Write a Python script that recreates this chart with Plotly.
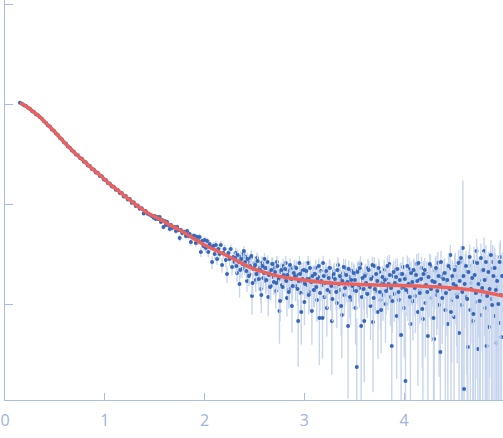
import plotly.graph_objects as go

# ---- measured curve, main sampling ----
q = [
    0.15, 0.17, 0.19, 0.21, 0.23, 0.25, 0.27, 0.29, 0.31, 0.33, 0.35,
    0.37, 0.39, 0.41, 0.43, 0.45, 0.47, 0.49, 0.51, 0.53, 0.55, 0.57, 0.59,
    0.61, 0.63, 0.65, 0.67, 0.69, 0.71, 0.73, 0.75, 0.77, 0.79, 0.81, 0.83, 0.85, 0.87, 0.89,
    0.91, 0.93, 0.95, 0.97, 0.99, 1.01, 1.03, 1.05, 1.07, 1.09, 1.11, 1.13, 1.15, 1.17, 1.19,
    1.21, 1.23, 1.25, 1.27, 1.29, 1.31, 1.33, 1.35, 1.37, 1.39, 1.41, 1.43, 1.45, 1.47, 1.49,
    1.5, 1.5125, 1.525, 1.5375, 1.55, 1.5625, 1.575, 1.5875,
    1.6, 1.6125, 1.625, 1.6375, 1.65, 1.6625, 1.675, 1.6875,
    1.7, 1.7125, 1.725, 1.7375, 1.75, 1.7625, 1.775, 1.7875,
    1.8, 1.8125, 1.825, 1.8375, 1.85, 1.8625, 1.875, 1.8875,
    1.9, 1.9125, 1.925, 1.9375, 1.95, 1.9625, 1.975, 1.9875,
    2.0, 2.0125, 2.025, 2.0375, 2.05, 2.0625, 2.075, 2.0875,
    2.1, 2.1125, 2.125, 2.1375, 2.15, 2.1625, 2.175, 2.1875,
    2.2, 2.2125, 2.225, 2.2375, 2.25, 2.2625, 2.275, 2.2875,
    2.3, 2.3125, 2.325, 2.3375, 2.35, 2.3625, 2.375, 2.3875,
    2.4, 2.4125, 2.425, 2.4375, 2.45, 2.4625, 2.475, 2.4875,
    2.5, 2.5125, 2.525, 2.5375, 2.55, 2.5625, 2.575, 2.5875,
    2.6, 2.6125, 2.625, 2.6375, 2.65, 2.6625, 2.675, 2.6875,
    2.7, 2.7125, 2.725, 2.7375, 2.75, 2.7625, 2.775, 2.7875,
    2.8, 2.8125, 2.825, 2.8375, 2.85, 2.8625, 2.875, 2.8875,
    2.9, 2.9125, 2.925, 2.9375, 2.95, 2.9625, 2.975, 2.9875,
    3.0, 3.0125, 3.025, 3.0375, 3.05, 3.0625, 3.075, 3.0875,
    3.1, 3.1125, 3.125, 3.1375, 3.15, 3.1625, 3.175, 3.1875,
    3.2, 3.2125, 3.225, 3.2375, 3.25, 3.2625, 3.275, 3.2875,
    3.3, 3.3125, 3.325, 3.3375, 3.35, 3.3625, 3.375, 3.3875,
    3.4, 3.4125, 3.425, 3.4375, 3.45, 3.4625, 3.475, 3.4875,
    3.5, 3.5125, 3.525, 3.5375, 3.55, 3.5625, 3.575, 3.5875,
    3.6, 3.6125, 3.625, 3.6375, 3.65, 3.6625, 3.675, 3.6875,
    3.7, 3.7125, 3.725, 3.7375, 3.75, 3.7625, 3.775, 3.7875,
    3.8, 3.8125, 3.825, 3.8375, 3.85, 3.8625, 3.875, 3.8875,
    3.9, 3.9125, 3.925, 3.9375, 3.95, 3.9625, 3.975, 3.9875,
    4.0, 4.0125, 4.025, 4.0375, 4.05, 4.0625, 4.075, 4.0875,
    4.1, 4.1125, 4.125, 4.1375, 4.15, 4.1625, 4.175, 4.1875,
    4.2, 4.2125, 4.225, 4.2375, 4.25, 4.2625, 4.275, 4.2875,
    4.3, 4.3125, 4.325, 4.3375, 4.35, 4.3625, 4.375, 4.3875,
    4.4, 4.4125, 4.425, 4.4375, 4.45, 4.4625, 4.475, 4.4875,
    4.5, 4.5125, 4.525, 4.5375, 4.55, 4.5625, 4.575, 4.5875,
    4.6, 4.6125, 4.625, 4.6375, 4.65, 4.6625, 4.675, 4.6875,
    4.7, 4.7125, 4.725, 4.7375, 4.75, 4.7625, 4.775, 4.7875,
    4.8, 4.8125, 4.825, 4.8375, 4.85, 4.8625, 4.875, 4.8875,
    4.9, 4.9125, 4.925, 4.9375, 4.95, 4.9625, 4.975,
]

intensity = [
    1.03, 1.005, 0.972, 0.955, 0.915, 0.894, 0.852, 0.832, 0.791, 0.772, 0.736,
    0.712, 0.671, 0.649, 0.611, 0.594, 0.556, 0.541, 0.508, 0.489, 0.458, 0.444, 0.414,
    0.402, 0.376, 0.366, 0.343, 0.334, 0.313, 0.307, 0.288, 0.283, 0.265, 0.262, 0.243, 0.240, 0.224, 0.221,
    0.206, 0.205, 0.191, 0.189, 0.176, 0.174, 0.162, 0.160, 0.150, 0.149, 0.139, 0.138, 0.129, 0.129, 0.119,
    0.120, 0.111, 0.112, 0.103, 0.104, 0.0955, 0.0968, 0.0898, 0.0907, 0.0805, 0.0850, 0.0798, 0.0781, 0.0758, 0.0730,
    0.07586, 0.07079, 0.07413, 0.07079, 0.07413, 0.06607, 0.06918, 0.05888,
    0.06761, 0.06166, 0.06607, 0.06166, 0.05623, 0.06166, 0.05754, 0.05888,
    0.05888, 0.05370, 0.05888, 0.05495, 0.04571, 0.05495, 0.05129, 0.05248,
    0.05248, 0.04786, 0.05370, 0.04786, 0.05012, 0.04169, 0.04677, 0.04786,
    0.04786, 0.04074, 0.04677, 0.04266, 0.04677, 0.03311, 0.04266, 0.03802,
    0.04365, 0.03631, 0.04266, 0.03311, 0.03981, 0.03715, 0.02630, 0.03802,
    0.03162, 0.03890, 0.02818, 0.03548, 0.03162, 0.03890, 0.02455, 0.03236,
    0.03548, 0.02754, 0.01995, 0.03236, 0.02818, 0.03548, 0.02344, 0.02951,
    0.02630, 0.03236, 0.02042, 0.02818, 0.01585, 0.02951, 0.02239, 0.03162,
    0.02344, 0.02951, 0.01698, 0.02630, 0.01995, 0.02884, 0.01202, 0.02239,
    0.02570, 0.01738, 0.02884, 0.01995, 0.02291, 0.01413, 0.02570, 0.01820,
    0.02818, 0.01698, 0.02291, 0.01175, 0.02089, 0.01514, 0.02512, 0.01862,
    0.02291, 0.01349, 0.02630, 0.01738, 0.008511, 0.02089, 0.01549, 0.02399,
    0.01778, 0.02570, 0.01148, 0.02138, 0.01413, 0.02239, 0.009550, 0.01820,
    0.02344, 0.01514, 0.01950, 0.006761, 0.02570, 0.01288, 0.02138, 0.01660,
    0.01047, 0.02188, 0.01549, 0.02570, 0.01318, 0.01820, 0.008511, 0.01995,
    0.01380, 0.02291, 0.01096, 0.01862, 0.007244, 0.02138, 0.01549, 0.02570,
    0.01175, 0.01950, 0.009120, 0.01698, 0.02291, 0.01318, 0.006761, 0.01862,
    0.02138, 0.01479, 0.01023, 0.02455, 0.01380, 0.01778, 0.007762, 0.02042,
    0.01230, 0.02291, 0.01514, 0.006026, 0.01862, 0.01096, 0.02138, 0.01380,
    0.01950, 0.009120, 0.002344, 0.02188, 0.01445, 0.02512, 0.01175, 0.01698,
    0.006761, 0.01995, 0.01288, 0.02291, 0.01514, 0.009550, 0.01862, 0.006607,
    0.02399, 0.01349, 0.01738, 0.008318, 0.02089, 0.01096, 0.01622, 0.01230,
    0.02188, 0.01000, 0.01820, 0.01445, 0.02512, 0.01175, 0.003802, 0.01905,
    0.01259, 0.02188, 0.007586, 0.01660, 0.01096, 0.01995, 0.01445, 0.02344,
    0.009120, 0.001698, 0.01905, 0.01318, 0.02239, 0.006310, 0.01622, 0.01072,
    0.02089, 0.01202, 0.02512, 0.008318, 0.01738, 0.01380, 0.02291, 0.007079,
    0.01820, 0.01023, 0.01995, 0.004786, 0.01479, 0.02399, 0.01148, 0.01660,
    0.004467, 0.02138, 0.01230, 0.02570, 0.009772, 0.003311, 0.01862, 0.01380,
    0.01995, 0.008710, 0.01660, 0.006310, 0.02239, 0.03090, 0.01096, 0.01778,
    0.007413, 0.02344, 0.01259, 0.01905, 0.005129, 0.02630, 0.009772, 0.03631,
    0.001413, 0.02138, 0.01175, 0.003715, 0.02399, 0.008710, 0.01622, 0.006761,
    0.02630, 0.01047, 0.03388, 0.003548, 0.01738, 0.007762, 0.02138, 0.01230,
    0.03388, 0.009120, 0.003802, 0.01820, 0.005888, 0.02239, 0.01122, 0.02630,
    0.007586, 0.01820, 0.004074, 0.01479, 0.006457, 0.02951, 0.004677,
]

error = [
    0.006, 0.006, 0.006, 0.006, 0.005, 0.005, 0.005, 0.005, 0.005, 0.005, 0.005,
    0.005, 0.005, 0.005, 0.005, 0.004, 0.004, 0.004, 0.004, 0.004, 0.004, 0.004, 0.004,
    0.004, 0.004, 0.004, 0.004, 0.004, 0.003, 0.003, 0.003, 0.003, 0.003, 0.003, 0.003, 0.003, 0.003, 0.003,
    0.003, 0.003, 0.003, 0.003, 0.003, 0.003, 0.003, 0.003, 0.0028, 0.0028, 0.0028, 0.0028, 0.0028, 0.0028, 0.0028,
    0.0027, 0.0027, 0.0027, 0.0026, 0.0026, 0.0026, 0.0026, 0.0025, 0.0025, 0.0025, 0.0025, 0.0024, 0.0024, 0.0024, 0.0024,
    0.0028, 0.0031, 0.0027, 0.0030, 0.0032, 0.0029, 0.0031, 0.0030,
    0.0031, 0.0034, 0.0030, 0.0033, 0.0035, 0.0032, 0.0034, 0.0033,
    0.0032, 0.0035, 0.0031, 0.0034, 0.0036, 0.0033, 0.0035, 0.0034,
    0.0034, 0.0037, 0.0033, 0.0036, 0.0038, 0.0035, 0.0037, 0.0036,
    0.0035, 0.0038, 0.0034, 0.0037, 0.0039, 0.0036, 0.0038, 0.0037,
    0.0036, 0.0039, 0.0035, 0.0038, 0.0040, 0.0037, 0.0039, 0.0038,
    0.0037, 0.0040, 0.0036, 0.0039, 0.0041, 0.0038, 0.0040, 0.0039,
    0.0038, 0.0041, 0.0037, 0.0040, 0.0042, 0.0039, 0.0041, 0.0040,
    0.0039, 0.0042, 0.0038, 0.0041, 0.0043, 0.0040, 0.0042, 0.0041,
    0.0039, 0.0042, 0.0038, 0.0041, 0.0043, 0.0040, 0.0042, 0.0041,
    0.0040, 0.0043, 0.0039, 0.0042, 0.0044, 0.0041, 0.0043, 0.0042,
    0.0040, 0.0043, 0.0039, 0.0042, 0.0044, 0.0041, 0.0043, 0.0042,
    0.0041, 0.0044, 0.0040, 0.0043, 0.0045, 0.0042, 0.0044, 0.0043,
    0.0041, 0.0044, 0.0040, 0.0043, 0.0045, 0.0042, 0.0044, 0.0043,
    0.0042, 0.0045, 0.0041, 0.0044, 0.0046, 0.0043, 0.0045, 0.0044,
    0.0043, 0.0046, 0.0042, 0.0045, 0.0047, 0.0044, 0.0046, 0.0045,
    0.0044, 0.0047, 0.0043, 0.0046, 0.0048, 0.0045, 0.0047, 0.0046,
    0.0045, 0.0048, 0.0044, 0.0047, 0.0049, 0.0046, 0.0048, 0.0047,
    0.0046, 0.0049, 0.0045, 0.0048, 0.0050, 0.0047, 0.0049, 0.0048,
    0.0047, 0.0050, 0.0046, 0.0049, 0.0051, 0.0048, 0.0050, 0.0049,
    0.0049, 0.0052, 0.0048, 0.0051, 0.0053, 0.0050, 0.0052, 0.0051,
    0.0051, 0.0054, 0.0050, 0.0053, 0.0055, 0.0052, 0.0054, 0.0053,
    0.0053, 0.0056, 0.0052, 0.0055, 0.0057, 0.0054, 0.0056, 0.0055,
    0.0056, 0.0059, 0.0055, 0.0058, 0.0060, 0.0057, 0.0059, 0.0058,
    0.0059, 0.0062, 0.0058, 0.0061, 0.0063, 0.0060, 0.0062, 0.0061,
    0.0062, 0.0065, 0.0061, 0.0064, 0.0066, 0.0063, 0.0065, 0.0064,
    0.0066, 0.0069, 0.0065, 0.0068, 0.0070, 0.0067, 0.0069, 0.0068,
    0.0070, 0.0073, 0.0069, 0.0072, 0.0074, 0.0071, 0.0073, 0.0072,
    0.0075, 0.0078, 0.0074, 0.0077, 0.0079, 0.0076, 0.0078, 0.0077,
    0.0081, 0.0084, 0.0080, 0.0083, 0.0085, 0.0082, 0.0084, 0.0083,
    0.0089, 0.0092, 0.0088, 0.0091, 0.0093, 0.0090, 0.0092, 0.1350,
    0.0099, 0.0102, 0.0098, 0.0101, 0.0103, 0.0100, 0.0102, 0.0101,
    0.0111, 0.0114, 0.0110, 0.0113, 0.0115, 0.0112, 0.0114, 0.0113,
    0.0124, 0.0127, 0.0123, 0.0126, 0.0128, 0.0125, 0.0127, 0.0126,
    0.0137, 0.0140, 0.0136, 0.0139, 0.0141, 0.0138, 0.0140,
]

# ---- measured curve, interleaved frames (q >= 2.3) ----
q_b = [
    2.30625, 2.31875, 2.33125, 2.34375, 2.35625, 2.36875, 2.38125, 2.39375,
    2.40625, 2.41875, 2.43125, 2.44375, 2.45625, 2.46875, 2.48125, 2.49375,
    2.50625, 2.51875, 2.53125, 2.54375, 2.55625, 2.56875, 2.58125, 2.59375,
    2.60625, 2.61875, 2.63125, 2.64375, 2.65625, 2.66875, 2.68125, 2.69375,
    2.70625, 2.71875, 2.73125, 2.74375, 2.75625, 2.76875, 2.78125, 2.79375,
    2.80625, 2.81875, 2.83125, 2.84375, 2.85625, 2.86875, 2.88125, 2.89375,
    2.90625, 2.91875, 2.93125, 2.94375, 2.95625, 2.96875, 2.98125, 2.99375,
    3.00625, 3.01875, 3.03125, 3.04375, 3.05625, 3.06875, 3.08125, 3.09375,
    3.10625, 3.11875, 3.13125, 3.14375, 3.15625, 3.16875, 3.18125, 3.19375,
    3.20625, 3.21875, 3.23125, 3.24375, 3.25625, 3.26875, 3.28125, 3.29375,
    3.30625, 3.31875, 3.33125, 3.34375, 3.35625, 3.36875, 3.38125, 3.39375,
    3.40625, 3.41875, 3.43125, 3.44375, 3.45625, 3.46875, 3.48125, 3.49375,
    3.50625, 3.51875, 3.53125, 3.54375, 3.55625, 3.56875, 3.58125, 3.59375,
    3.60625, 3.61875, 3.63125, 3.64375, 3.65625, 3.66875, 3.68125, 3.69375,
    3.70625, 3.71875, 3.73125, 3.74375, 3.75625, 3.76875, 3.78125, 3.79375,
    3.80625, 3.81875, 3.83125, 3.84375, 3.85625, 3.86875, 3.88125, 3.89375,
    3.90625, 3.91875, 3.93125, 3.94375, 3.95625, 3.96875, 3.98125, 3.99375,
    4.00625, 4.01875, 4.03125, 4.04375, 4.05625, 4.06875, 4.08125, 4.09375,
    4.10625, 4.11875, 4.13125, 4.14375, 4.15625, 4.16875, 4.18125, 4.19375,
    4.20625, 4.21875, 4.23125, 4.24375, 4.25625, 4.26875, 4.28125, 4.29375,
    4.30625, 4.31875, 4.33125, 4.34375, 4.35625, 4.36875, 4.38125, 4.39375,
    4.40625, 4.41875, 4.43125, 4.44375, 4.45625, 4.46875, 4.48125, 4.49375,
    4.50625, 4.51875, 4.53125, 4.54375, 4.55625, 4.56875, 4.58125, 4.59375,
    4.60625, 4.61875, 4.63125, 4.64375, 4.65625, 4.66875, 4.68125, 4.69375,
    4.70625, 4.71875, 4.73125, 4.74375, 4.75625, 4.76875, 4.78125, 4.79375,
    4.80625, 4.81875, 4.83125, 4.84375, 4.85625, 4.86875, 4.88125, 4.89375,
    4.90625, 4.91875, 4.93125, 4.94375, 4.95625, 4.96875, 4.98125,
]

intensity_b = [
    0.02884, 0.02399, 0.03090, 0.02630, 0.02188, 0.02818, 0.02512, 0.03388,
    0.02630, 0.02138, 0.02818, 0.01905, 0.02399, 0.03020, 0.01622, 0.02291,
    0.02455, 0.01995, 0.02692, 0.01778, 0.02188, 0.01230, 0.02399, 0.02042,
    0.02291, 0.01738, 0.02630, 0.01950, 0.01479, 0.02188, 0.02512, 0.01660,
    0.02089, 0.01622, 0.02399, 0.01820, 0.01072, 0.02188, 0.01479, 0.01950,
    0.02239, 0.01698, 0.01950, 0.01318, 0.02455, 0.01778, 0.01514, 0.02042,
    0.01905, 0.02291, 0.01413, 0.01698, 0.01995, 0.008318, 0.01778, 0.02188,
    0.01585, 0.02138, 0.01778, 0.01230, 0.02291, 0.01660, 0.01905, 0.01380,
    0.01995, 0.01479, 0.01778, 0.02399, 0.01288, 0.01698, 0.007244, 0.01905,
    0.01622, 0.02138, 0.01380, 0.01820, 0.02291, 0.01514, 0.01122, 0.01995,
    0.01778, 0.01318, 0.02188, 0.01585, 0.01905, 0.009550, 0.01698, 0.02344,
    0.01445, 0.01950, 0.01660, 0.02239, 0.01175, 0.01738, 0.01514, 0.02042,
    0.01738, 0.01349, 0.02089, 0.01549, 0.02291, 0.006026, 0.01820, 0.01413,
    0.01905, 0.01622, 0.01259, 0.02188, 0.01479, 0.01778, 0.02455, 0.01148,
    0.01413, 0.01995, 0.01698, 0.02291, 0.01318, 0.008710, 0.01862, 0.01585,
    0.01738, 0.01349, 0.02399, 0.01585, 0.01950, 0.01445, 0.01072, 0.02089,
    0.01622, 0.01862, 0.02239, 0.01318, 0.01738, 0.004898, 0.01995, 0.01479,
    0.01778, 0.01380, 0.02399, 0.01585, 0.01175, 0.02042, 0.01660, 0.02188,
    0.01445, 0.01950, 0.01698, 0.02570, 0.01288, 0.01778, 0.008913, 0.01995,
    0.02188, 0.01549, 0.01318, 0.01862, 0.02512, 0.01413, 0.01698, 0.007244,
    0.01660, 0.02291, 0.01349, 0.01905, 0.01549, 0.02630, 0.01148, 0.01778,
    0.02042, 0.01288, 0.01738, 0.02399, 0.01413, 0.008318, 0.01905, 0.01585,
    0.02188, 0.01514, 0.01175, 0.02570, 0.01698, 0.02884, 0.01318, 0.01905,
    0.01585, 0.02399, 0.01122, 0.02089, 0.02951, 0.01413, 0.01820, 0.007943,
    0.01950, 0.01288, 0.02570, 0.01585, 0.01072, 0.02884, 0.01445, 0.02188,
    0.01738, 0.02630, 0.01202, 0.02089, 0.01413, 0.03090, 0.009772, 0.01905,
    0.02291, 0.01380, 0.01698, 0.01000, 0.02630, 0.01230, 0.01905,
]

error_b = [
    0.0041, 0.0039, 0.0042, 0.0040, 0.0038, 0.0041, 0.0039, 0.0042,
    0.0041, 0.0039, 0.0042, 0.0040, 0.0038, 0.0041, 0.0039, 0.0042,
    0.0042, 0.0040, 0.0043, 0.0041, 0.0039, 0.0042, 0.0040, 0.0043,
    0.0042, 0.0040, 0.0043, 0.0041, 0.0039, 0.0042, 0.0040, 0.0043,
    0.0043, 0.0041, 0.0044, 0.0042, 0.0040, 0.0043, 0.0041, 0.0044,
    0.0043, 0.0041, 0.0044, 0.0042, 0.0040, 0.0043, 0.0041, 0.0044,
    0.0044, 0.0042, 0.0045, 0.0043, 0.0041, 0.0044, 0.0042, 0.0045,
    0.0045, 0.0043, 0.0046, 0.0044, 0.0042, 0.0045, 0.0043, 0.0046,
    0.0046, 0.0044, 0.0047, 0.0045, 0.0043, 0.0046, 0.0044, 0.0047,
    0.0047, 0.0045, 0.0048, 0.0046, 0.0044, 0.0047, 0.0045, 0.0048,
    0.0048, 0.0046, 0.0049, 0.0047, 0.0045, 0.0048, 0.0046, 0.0049,
    0.0049, 0.0047, 0.0050, 0.0048, 0.0046, 0.0049, 0.0047, 0.0050,
    0.0051, 0.0049, 0.0052, 0.0050, 0.0048, 0.0051, 0.0049, 0.0052,
    0.0053, 0.0051, 0.0054, 0.0052, 0.0050, 0.0053, 0.0051, 0.0054,
    0.0055, 0.0053, 0.0056, 0.0054, 0.0052, 0.0055, 0.0053, 0.0056,
    0.0058, 0.0056, 0.0059, 0.0057, 0.0055, 0.0058, 0.0056, 0.0059,
    0.0061, 0.0059, 0.0062, 0.0060, 0.0058, 0.0061, 0.0059, 0.0062,
    0.0064, 0.0062, 0.0065, 0.0063, 0.0061, 0.0064, 0.0062, 0.0065,
    0.0068, 0.0066, 0.0069, 0.0067, 0.0065, 0.0068, 0.0066, 0.0069,
    0.0072, 0.0070, 0.0073, 0.0071, 0.0069, 0.0072, 0.0070, 0.0073,
    0.0077, 0.0075, 0.0078, 0.0076, 0.0074, 0.0077, 0.0075, 0.0078,
    0.0083, 0.0081, 0.0084, 0.0082, 0.0080, 0.0083, 0.0081, 0.0084,
    0.0091, 0.0089, 0.0092, 0.0090, 0.0088, 0.0091, 0.0089, 0.0092,
    0.0101, 0.0099, 0.0102, 0.0100, 0.0098, 0.0101, 0.0099, 0.0102,
    0.0113, 0.0111, 0.0114, 0.0112, 0.0110, 0.0113, 0.0111, 0.0114,
    0.0126, 0.0124, 0.0127, 0.0125, 0.0123, 0.0126, 0.0124, 0.0127,
    0.0139, 0.0137, 0.0140, 0.0138, 0.0136, 0.0139, 0.0137,
]

# ---- model fit curve ----
fit_q = [0.15, 0.20, 0.25, 0.30, 0.35, 0.40, 0.45, 0.50, 0.55, 0.60,
         0.65, 0.70, 0.75, 0.80, 0.85, 0.90, 0.95, 1.00, 1.05, 1.10,
         1.15, 1.20, 1.25, 1.30, 1.35, 1.40, 1.45, 1.55, 1.65, 1.75,
         1.85, 1.95, 2.05, 2.15, 2.25, 2.35, 2.45, 2.55, 2.65, 2.75,
         2.85, 2.95, 3.15, 3.35, 3.55, 3.95, 4.35, 4.55, 4.75, 4.99]
fit_intensity = [1.023, 0.966, 0.891, 0.813, 0.741, 0.661, 0.589, 0.525, 0.462, 0.407,
                 0.363, 0.324, 0.292, 0.263, 0.237, 0.214, 0.195, 0.176, 0.158, 0.145,
                 0.132, 0.120, 0.110, 0.100, 0.0923, 0.0851, 0.0794, 0.0708, 0.0617, 0.0550,
                 0.0479, 0.0415, 0.0367, 0.0331, 0.0295, 0.0263, 0.0234, 0.0214, 0.0200, 0.0189,
                 0.0182, 0.0176, 0.0166, 0.0160, 0.0157, 0.0153, 0.0148, 0.0143, 0.0135, 0.0120]

x_ticks = [0, 1, 2, 3, 4]
y_ticks = [0.01, 0.1, 1, 10]

assert len(q) == len(intensity) == len(error), (len(q), len(intensity), len(error))
assert len(q_b) == len(intensity_b) == len(error_b), (len(q_b), len(intensity_b), len(error_b))
assert len(fit_q) == len(fit_intensity)

AXIS = "#a9bde2"
LABEL = "#9fb3dc"
POINT = "#3767bb"
BAR = "#c8d6ee"

fig = go.Figure()
for xs, ys, es in ((q, intensity, error), (q_b, intensity_b, error_b)):
    fig.add_trace(go.Scatter(
        x=xs, y=ys, mode="markers",
        marker=dict(color=POINT, size=4),
        error_y=dict(type="data", array=es, visible=True,
                     color=BAR, thickness=1.4, width=0),
    ))
fig.add_trace(go.Scatter(
    x=fit_q, y=fit_intensity, mode="lines",
    line=dict(color="#eb625d", width=3.5, shape="spline"),
))
fig.update_layout(
    width=503, height=438,
    margin=dict(l=5, r=0, t=0, b=38),
    showlegend=False,
    plot_bgcolor="white", paper_bgcolor="white",
)
fig.update_xaxes(
    range=[0, 4.99], tickvals=x_ticks, ticktext=[str(t) for t in x_ticks],
    ticks="inside", ticklen=7, tickwidth=1, tickcolor=AXIS,
    showline=True, linecolor=AXIS, linewidth=1,
    showgrid=False, zeroline=False,
    tickfont=dict(family="Open Sans", size=16, color=LABEL),
    ticklabelstandoff=6,
)
fig.update_yaxes(
    type="log", range=[-2.96, 1.04], tickvals=y_ticks,
    ticks="inside", ticklen=8, tickwidth=1, tickcolor=AXIS,
    showticklabels=False,
    showline=True, linecolor=AXIS, linewidth=1,
    showgrid=False, zeroline=False,
)
fig.write_html("out.html", config={"displayModeBar": False},
               post_script="document.body.style.margin='0';")

with open("out.html", encoding="utf-8") as fh:
    page = fh.read()
page = page.replace("<head>", "<head><style>html,body{margin:0;padding:0;}</style>", 1)
with open("out.html", "w", encoding="utf-8") as fh:
    fh.write(page)
